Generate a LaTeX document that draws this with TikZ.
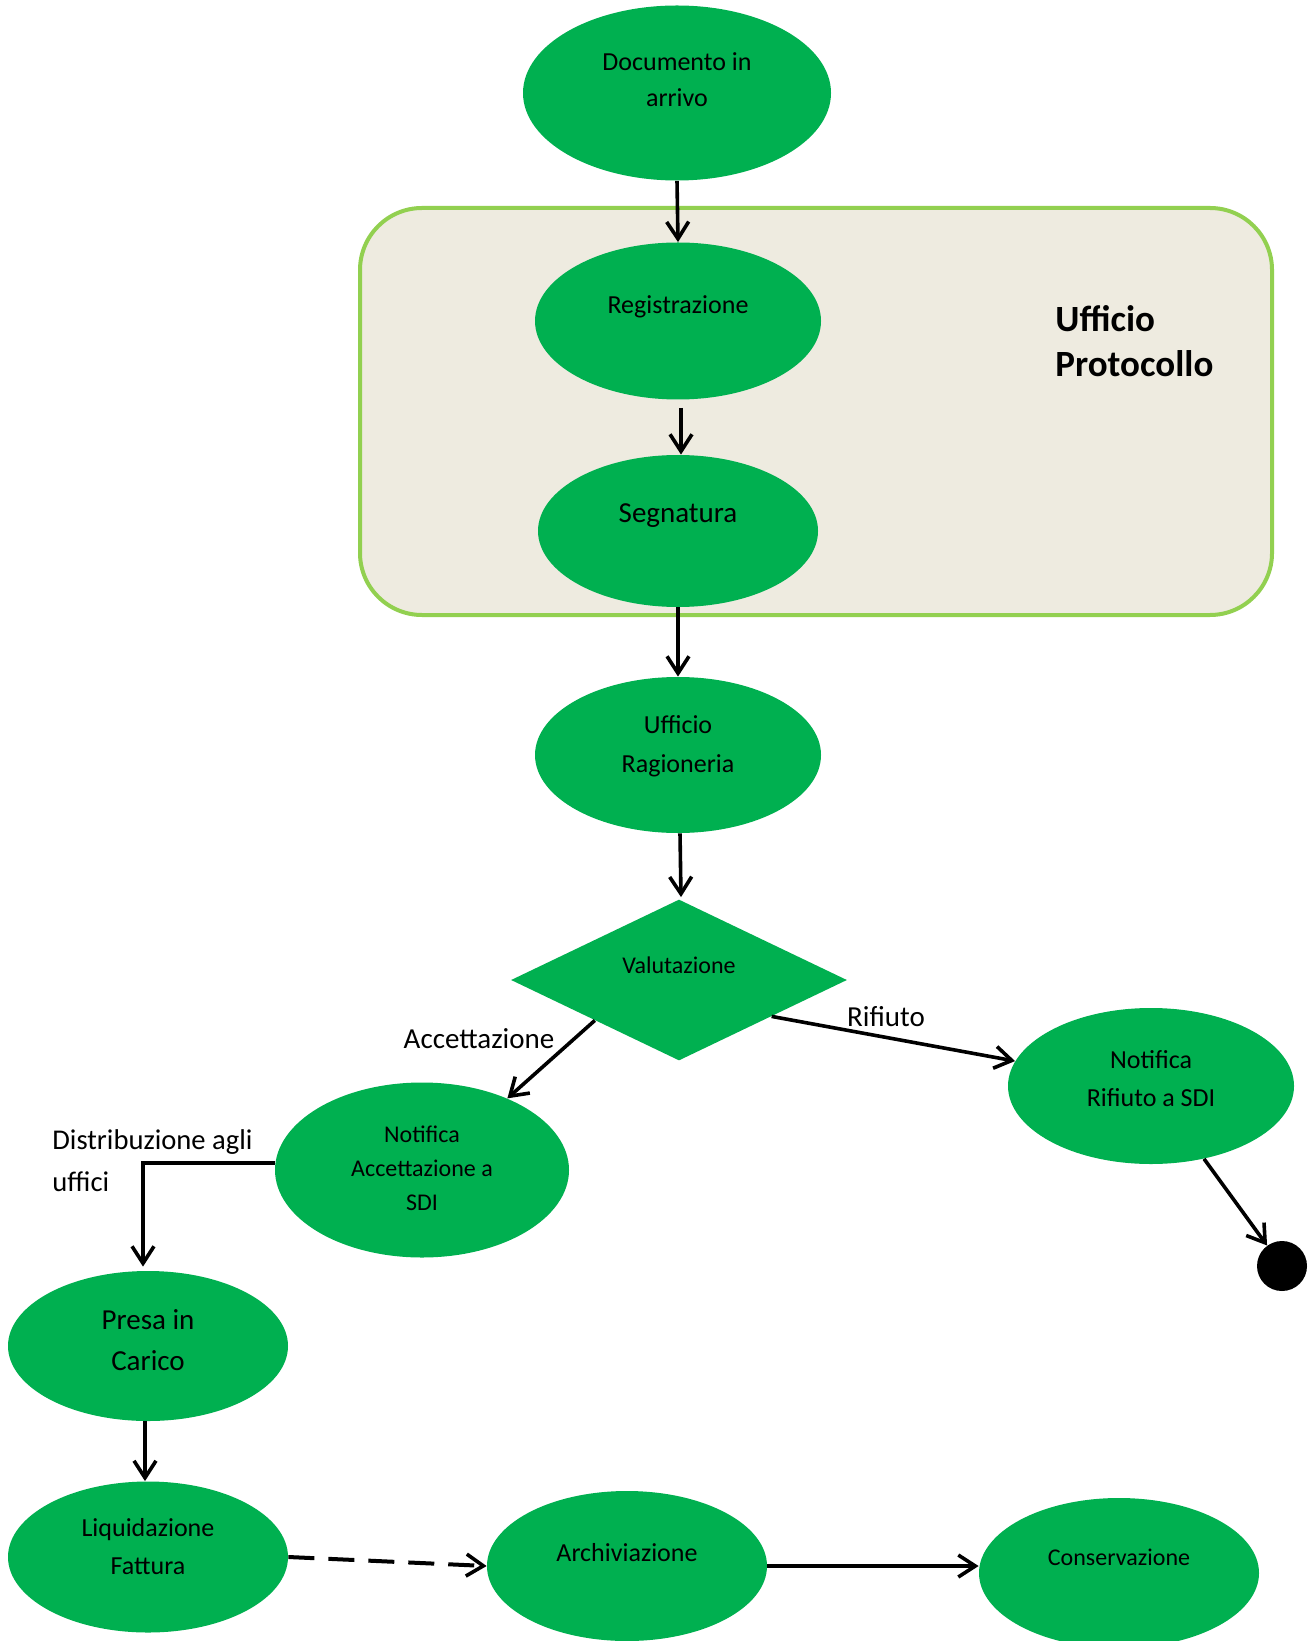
\documentclass[tikz,border=0pt]{standalone}
\usepackage{fontspec}
\setmainfont{Carlito}
\usetikzlibrary{shapes.geometric,arrows.meta,calc}
\definecolor{ogreen}{HTML}{00B050}
\definecolor{pfill}{HTML}{EEEBE0}
\definecolor{pline}{HTML}{92D050}
\begin{document}
\begin{tikzpicture}[x=0.5pt,y=-0.5pt,
  ell/.style={ellipse, fill=ogreen, draw=none, inner sep=0pt},
  txt/.style={align=center, inner sep=0pt, text=black},
  conn/.style={draw=black, line width=1.8pt, -{Straight Barb[length=8.5pt,width=11pt,line width=1.8pt]}},
  dashconn/.style={conn, line width=2pt, dash pattern=on 13pt off 7pt},
  thickconn/.style={conn, line width=2pt}
]
\useasboundingbox (0,0) rectangle (1312,1641);
\fill[white] (0,0) rectangle (1312,1641);

% container
\node[rectangle, rounded corners=31pt, draw=pline, fill=pfill, line width=2pt,
      minimum width=456pt, minimum height=203.5pt, inner sep=0pt] (proto) at (816,411.5) {};
\node[txt, align=left, anchor=west, font=\bfseries\fontsize{18.5}{22.5}\selectfont] (protot) at (1055,341) {Ufficio\\Protocollo};

% nodes
\node[ell, minimum width=154pt, minimum height=87.5pt] (doc) at (677,93) {};
\node[txt, font=\fontsize{13}{18}\selectfont] (doct) at (677,80) {Documento in\\arrivo};

\node[ell, minimum width=143pt, minimum height=78.5pt] (reg) at (678,321) {};
\node[txt, font=\fontsize{13}{18}\selectfont] (regt) at (678,307) {Registrazione};

\node[ell, minimum width=140pt, minimum height=76pt] (seg) at (678,531) {};
\node[txt, font=\fontsize{14.5}{20}\selectfont] (segt) at (678,516) {Segnatura};

\node[ell, minimum width=143pt, minimum height=78pt] (rag) at (678,755) {};
\node[txt, font=\fontsize{13}{19.5}\selectfont] (ragt) at (678,746) {Ufficio\\Ragioneria};

\node[diamond, fill=ogreen, draw=none, inner sep=0pt, minimum width=168pt, minimum height=80.5pt] (val) at (679,980) {};
\node[txt, font=\fontsize{12}{17}\selectfont] (valt) at (679,965) {Valutazione};

\node[ell, minimum width=143pt, minimum height=78pt] (rif) at (1151,1086) {};
\node[txt, font=\fontsize{13}{19}\selectfont] (rift) at (1151,1079) {Notifica\\Rifiuto a SDI};

\node[ell, minimum width=147pt, minimum height=87.5pt] (acc) at (422,1170) {};
\node[txt, font=\fontsize{12}{17}\selectfont] (acct) at (422,1168) {Notifica\\Accettazione a\\SDI};

\node[circle, fill=black, inner sep=0pt, minimum size=25pt] (fine) at (1282,1266) {};

\node[ell, minimum width=140pt, minimum height=75pt] (presa) at (148,1346) {};
\node[txt, font=\fontsize{14.5}{20.5}\selectfont] (presat) at (148,1340) {Presa in\\Carico};

\node[ell, minimum width=140pt, minimum height=75.5pt] (liq) at (148,1557) {};
\node[txt, font=\fontsize{13}{19}\selectfont] (liqt) at (148,1547) {Liquidazione\\Fattura};

\node[ell, minimum width=140pt, minimum height=75pt] (arch) at (627,1566) {};
\node[txt, font=\fontsize{13}{18}\selectfont] (archt) at (627,1553) {Archiviazione};

\node[ell, minimum width=140pt, minimum height=75pt] (cons) at (1119,1573) {};
\node[txt, font=\fontsize{12}{17}\selectfont] (const) at (1119,1557) {Conservazione};

% connector labels
\node[txt, font=\fontsize{14.5}{20}\selectfont] (lacc) at (479,1039) {Accettazione};
\node[txt, font=\fontsize{14.5}{20}\selectfont] (lrif) at (886,1017) {Rifiuto};
\node[txt, align=left, anchor=west, font=\fontsize{14.3}{21}\selectfont] (ldist) at (52,1161) {Distribuzione agli\\uffici};

% connectors
\draw[conn] (doc.south) -- (reg.north);
\draw[conn, line width=1.6pt] ([xshift=1.5pt,yshift=-4pt]reg.south) -- ([xshift=1.5pt]seg.north);
\draw[conn] (seg.south) -- (rag.north);
\draw[conn] ([xshift=1pt]rag.south) -- ([xshift=1pt,yshift=1pt]val.north);
\draw[conn] ($(val.west)!0.5!(val.south)$) -- (acc.40);
\draw[conn] ($(val.east)!0.45!(val.south)$) -- (rif);
\draw[conn] (rif) -- (fine);
\draw[conn] ([yshift=3.5pt]acc.west) -| ([xshift=-2.5pt,yshift=2pt]presa.north);
\draw[conn] ([xshift=-1.5pt]presa.south) -- ([xshift=-1.5pt]liq.north);
\draw[dashconn] (liq.east) -- (arch.west);
\draw[thickconn] (arch.east) -- (arch.east -| cons.west);
\end{tikzpicture}
\end{document}
